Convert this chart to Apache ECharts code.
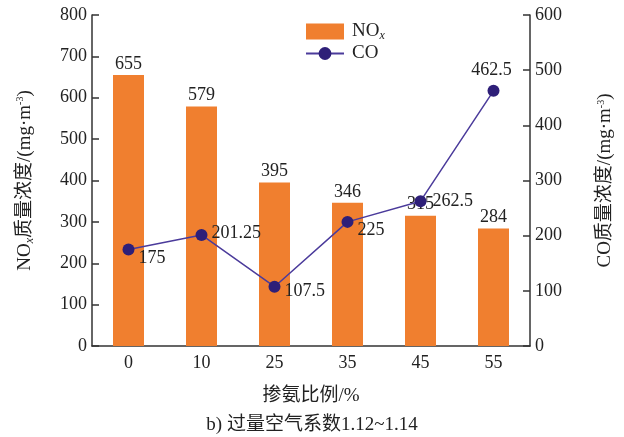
<!DOCTYPE html>
<html>
<head>
<meta charset="utf-8">
<script src="https://cdn.jsdelivr.net/npm/echarts@6/dist/echarts.min.js"></script>
<style>
  html, body { margin: 0; padding: 0; background: #fff; }
  #chart { width: 624px; height: 437px; }
</style>
</head>
<body>
<div id="chart"></div>
<script>
// 掺氨比例
const categories = ['0', '10', '25', '35', '45', '55']
// NOx 质量浓度
const noxValues = [655, 579, 395, 346, 315, 284]
// CO 质量浓度
const coValues = [175, 201.25, 107.5, 225, 262.5, 462.5]
// CO 标签位置
const coLabelPos = ['right', 'right', 'right', 'right', 'right', 'top']
const coLabelOffset = [[-2, 9], [-2, -2], [-2, 5], [-2, 8], [0, 0], [-2, 0]]

const serif = '"Liberation Serif", "Noto Sans CJK SC", serif'
const axisColor = '#333'
const textColor = '#222'

const nameRich = {
    a: { fontSize: 19, fontFamily: serif, color: textColor },
    s: { fontSize: 12, fontStyle: 'italic', fontFamily: serif, color: textColor, verticalAlign: 'bottom', padding: [9, 0, 0, 0] },
    p: { fontSize: 10, fontFamily: serif, color: textColor, verticalAlign: 'top', padding: [0, 0, 9, 0] }
}

const chart = echarts.init(document.getElementById('chart'))

const option = {
    backgroundColor: '#fff',
    textStyle: { fontFamily: serif },
    title: {
        text: 'b) 过量空气系数1.12~1.14',
        left: 'center',
        bottom: 2,
        padding: 0,
        textStyle: { fontSize: 19, fontWeight: 'normal', color: textColor, fontFamily: serif }
    },
    legend: {
        orient: 'vertical',
        left: 305,
        top: 22,
        padding: 0,
        itemWidth: 38,
        itemHeight: 16,
        itemGap: 2,
        formatter: name => name === 'NOx' ? '{a|NO}{s|x}' : '{a|' + name + '}',
        textStyle: { rich: nameRich, fontSize: 19, color: textColor, padding: [0, 0, 0, 3] },
        data: [{ name: 'NOx', icon: 'rect' }, 'CO']
    },
    grid: { left: 92, right: 94, top: 15, bottom: 91 },
    xAxis: {
        type: 'category',
        data: categories,
        name: '掺氨比例/%',
        nameLocation: 'middle',
        nameGap: 41,
        nameTextStyle: { fontSize: 19, color: textColor, fontFamily: serif },
        axisLine: { lineStyle: { color: axisColor, width: 1.5 } },
        axisTick: { show: false },
        axisLabel: { fontSize: 18, color: textColor, margin: 8 }
    },
    yAxis: [
        {
            type: 'value',
            min: 0,
            max: 800,
            interval: 100,
            name: '{a|NO}{s|x}{a|质量浓度/(mg·m}{p|-3}{a|)}',
            nameLocation: 'middle',
            nameGap: 56,
            nameTextStyle: { rich: nameRich },
            axisLine: { show: true, lineStyle: { color: axisColor, width: 1.5 } },
            axisTick: { show: true, inside: true, length: 7, lineStyle: { color: axisColor, width: 1.5 } },
            axisLabel: { fontSize: 18, color: textColor, margin: 5 },
            splitLine: { show: false }
        },
        {
            type: 'value',
            min: 0,
            max: 600,
            interval: 100,
            name: '{a|CO质量浓度/(mg·m}{p|-3}{a|)}',
            nameLocation: 'middle',
            nameGap: 66,
            nameRotate: 90,
            nameTextStyle: { rich: nameRich },
            axisLine: { show: true, lineStyle: { color: axisColor, width: 1.5 } },
            axisTick: { show: true, inside: true, length: 7, lineStyle: { color: axisColor, width: 1.5 } },
            axisLabel: { fontSize: 18, color: textColor, margin: 5 },
            splitLine: { show: false }
        }
    ],
    series: [
        {
            name: 'NOx',
            type: 'bar',
            data: noxValues,
            barWidth: 31,
            itemStyle: { color: '#f07f2f' },
            label: { show: true, position: 'top', distance: 2, fontSize: 18, color: textColor, fontFamily: serif }
        },
        {
            name: 'CO',
            type: 'line',
            yAxisIndex: 1,
            data: coValues.map((v, i) => ({
                value: v,
                label: { position: coLabelPos[i], offset: coLabelOffset[i] }
            })),
            symbol: 'circle',
            symbolSize: 12,
            lineStyle: { color: '#4b3b9b', width: 1.5 },
            itemStyle: { color: '#2e1f78' },
            label: { show: true, fontSize: 18, color: textColor, fontFamily: serif, distance: 6 },
            z: 3
        }
    ]
}

chart.setOption(option)
</script>
</body>
</html>
